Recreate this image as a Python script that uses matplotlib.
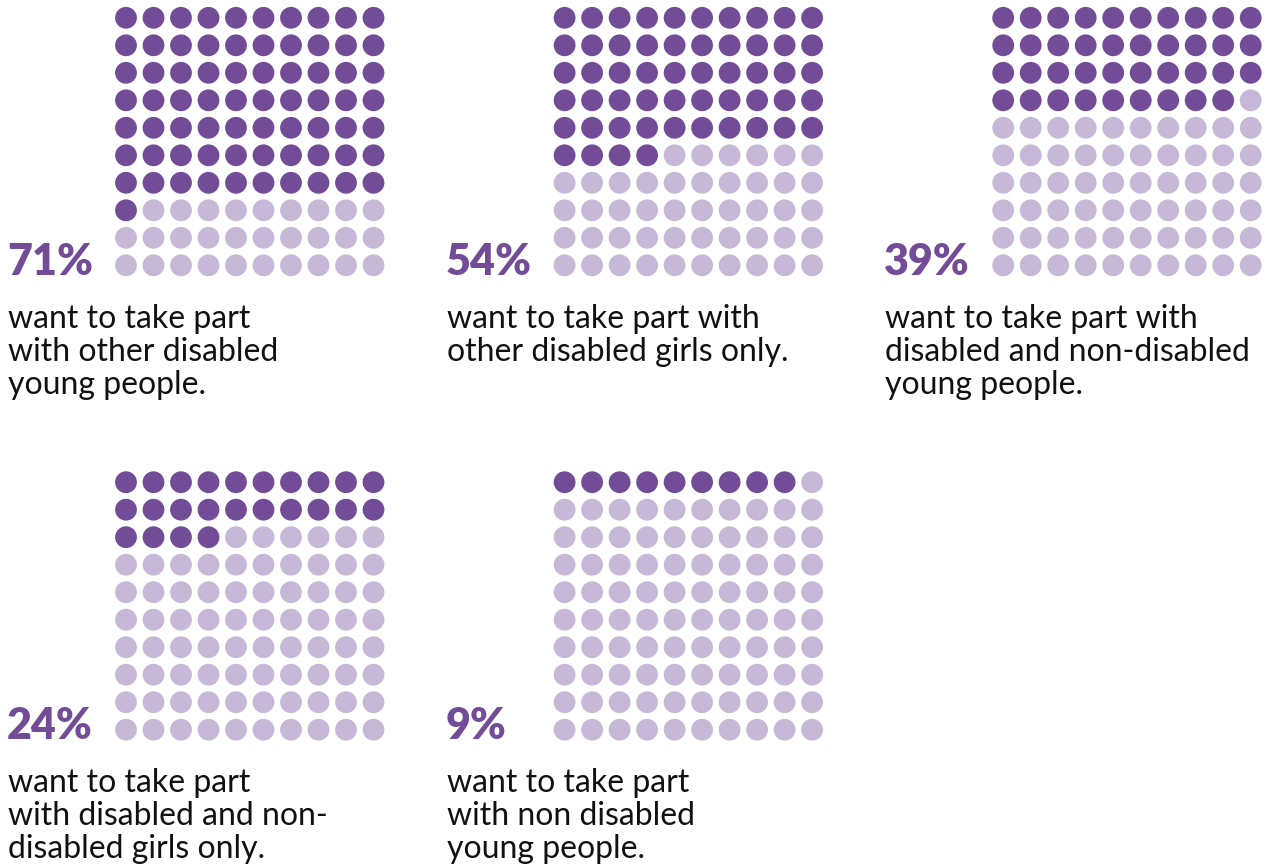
import matplotlib
matplotlib.use("Agg")
import matplotlib.pyplot as plt
from matplotlib.patches import Circle

# Data
percentages = [71, 54, 39, 24, 9]
labels = ["71%", "54%", "39%", "24%", "9%"]
descriptions = [
    "want to take part\nwith other disabled\nyoung people.",
    "want to take part with\nother disabled girls only.",
    "want to take part with\ndisabled and non-disabled\nyoung people.",
    "want to take part\nwith disabled and non-\ndisabled girls only.",
    "want to take part\nwith non disabled\nyoung people.",
]

DARK = "#734C98"
LIGHT = "#C7B8D7"
TEXT = "#111111"

W, H = 1270, 865
fig = plt.figure(figsize=(W / 100, H / 100), dpi=100)
ax = fig.add_axes([0, 0, 1, 1])
ax.set_xlim(0, W)
ax.set_ylim(H, 0)
ax.axis("off")

col_step = 438.6
row_step = 464.4
dot_step = 27.5
radius = 10.9

for i, (pct, lab, desc) in enumerate(zip(percentages, labels, descriptions)):
    c, r = i % 3, i // 3
    gx = 126 + c * col_step
    gy = 17.8 + r * row_step
    for k in range(100):
        rr, cc = k // 10, k % 10
        color = DARK if k < pct else LIGHT
        ax.add_patch(Circle((gx + cc * dot_step, gy + rr * dot_step), radius,
                            facecolor=color, edgecolor="none"))
    lx = 7 + c * col_step
    ax.text(lx, 275 + r * row_step, lab, fontsize=31, fontweight="heavy",
            color=DARK, family="Lato", va="baseline", ha="left")
    ax.text(lx + 1, 304 + r * row_step, desc, fontsize=23, color=TEXT,
            family="Lato", va="top", ha="left", linespacing=1.12)

fig.savefig("out.png", dpi=100)
